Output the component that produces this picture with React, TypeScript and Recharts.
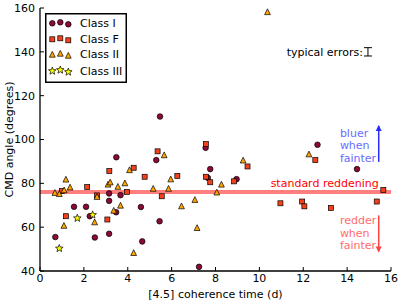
import React from 'react';
import {
  ScatterChart, Scatter, XAxis, YAxis, ReferenceLine, ReferenceDot, Legend, ErrorBar,
} from 'recharts';

const FONT = 'DejaVu Sans, Verdana, sans-serif';

const classINames = ['Class I', 'Class F', 'Class II', 'Class III'];

const classIx = [0.7, 1.55, 2.1, 2.27, 2.5, 3.15, 3.15, 3.15, 3.47, 3.48, 3.67, 4.6, 4.66, 5.3, 5.45, 5.47, 7.25, 7.55, 7.65, 7.76, 8.96, 12.65, 14.45];
const classIy = [55.5, 69.3, 69.3, 65, 55.3, 75.4, 72, 57, 66.8, 91.9, 74.6, 69.2, 53.5, 90.6, 62.7, 110.5, 41.9, 96.2, 82.5, 86.5, 81.9, 97.6, 86.5];

const classFx = [1.0, 1.18, 2.15, 2.6, 3.07, 3.16, 3.96, 4.27, 4.77, 5.36, 5.55, 6.26, 7.56, 7.56, 7.76, 8.85, 9.46, 10.96, 11.95, 12.05, 12.55, 13.26, 15.35, 15.65];
const classFy = [76.5, 65, 78.3, 74.5, 63.5, 85.6, 76.1, 87.1, 83, 94.6, 74.1, 83.4, 97.9, 83, 80.5, 80.9, 87.7, 70.9, 71.7, 69.5, 90.6, 68.8, 71.7, 77];

const classIIx = [0.68, 0.88, 1.1, 1.09, 1.18, 1.37, 2.49, 2.6, 3.1, 3.2, 3.36, 3.55, 3.67, 3.87, 4.08, 4.27, 5.16, 5.66, 5.86, 5.96, 6.45, 7.06, 7.16, 8.06, 8.27, 9.26, 10.37, 12.26];
const classIIy = [75.8, 75.3, 77, 60.8, 81.9, 78.3, 62.4, 74, 79.6, 80.6, 67.7, 78.6, 70, 80.2, 86.2, 48.4, 77.7, 93, 77.7, 82, 69.7, 72.6, 59.8, 76, 79.6, 90.6, 158.3, 93.4];

const classIIIx = [0.88, 1.7, 2.4];
const classIIIy = [50.3, 64.1, 65.6];

const xTicks = [0, 2, 4, 6, 8, 10, 12, 14, 16];
const yTicks = [40, 60, 80, 100, 120, 140, 160];

const standardReddening = 76;
const typicalError = 1.9;

const zip = (xs: number[], ys: number[]) => xs.map((x, i) => ({ x, y: ys[i] }));

const COLORS = ['#8c0a36', '#f5401c', '#ffa500', '#ffff00'];
const MARKERS = ['circle', 'square', 'triangle', 'star'];

function Marker({ kind, cx, cy, fill }: { kind: string; cx: number; cy: number; fill: string }) {
  const sw = 0.7;
  if (kind === 'circle') return <circle cx={cx} cy={cy} r={2.8} fill={fill} stroke="#000" strokeWidth={sw} />;
  if (kind === 'square') return <rect x={cx - 2.5} y={cy - 2.5} width={5} height={5} fill={fill} stroke="#000" strokeWidth={sw} />;
  if (kind === 'triangle') {
    const r = 2.9;
    return <polygon points={`${cx},${cy - r} ${cx - r},${cy + r} ${cx + r},${cy + r}`} fill={fill} stroke="#000" strokeWidth={sw} />;
  }
  const pts: string[] = [];
  for (let i = 0; i < 10; i++) {
    const rr = i % 2 === 0 ? 4.0 : 1.7;
    const a = -Math.PI / 2 + (i * Math.PI) / 5;
    pts.push(`${cx + rr * Math.cos(a)},${cy + rr * Math.sin(a)}`);
  }
  return <polygon points={pts.join(' ')} fill={fill} stroke="#000" strokeWidth={sw} />;
}

const makeShape = (idx: number) => (p: any) => (
  <Marker kind={MARKERS[idx]} cx={p.cx} cy={p.cy} fill={COLORS[idx]} />
);

function LegendBox() {
  const rows = [10.3, 26.3, 41.3, 58];
  const mx = [7.3, 15.3, 23.3];
  const my = [0, -1, 1];
  return (
    <svg width={82} height={70} style={{ display: 'block' }}>
      <rect x={0.75} y={0.75} width={80.5} height={68.5} fill="#fff" stroke="#000" strokeWidth={1.5} />
      {classINames.map((name, i) => (
        <g key={name}>
          {mx.map((x, j) => (
            <Marker key={j} kind={MARKERS[i]} cx={x} cy={rows[i] + my[j]} fill={COLORS[i]} />
          ))}
          <text x={35} y={rows[i]} dominantBaseline="central" fontFamily={FONT} fontSize={11} fill="#000">{name}</text>
        </g>
      ))}
    </svg>
  );
}

const textShape = (lines: string[], color: string, anchor: 'start' | 'end') => (p: any) => (
  <text x={p.cx} y={p.cy} textAnchor={anchor} dominantBaseline="central" fontFamily={FONT} fontSize={11} fill={color}>
    {lines.map((l, i) => (
      <tspan key={i} x={p.cx} dy={i === 0 ? 0 : 12.3}>{l}</tspan>
    ))}
  </text>
);

const arrowShape = (color: string) => (p: any) => {
  const { x1, y1, x2, y2 } = p;
  const dir = y2 < y1 ? -1 : 1;
  return (
    <g>
      <line x1={x1} y1={y1} x2={x2} y2={y2} stroke={color} strokeWidth={1.5} />
      <polygon points={`${x2},${y2 + dir * 1} ${x2 - 3},${y2 - dir * 5} ${x2 + 3},${y2 - dir * 5}`} fill={color} />
    </g>
  );
};

const tickStyle = { fontFamily: FONT, fontSize: 11, fill: '#000' };
const errData = [{ x: 14.95, y: 140, err: typicalError }];

export default function App() {
  return (
    <div style={{ position: 'absolute', left: 0, top: 0, width: 399, height: 302, background: '#fff' }}>
      <ScatterChart width={399} height={302} margin={{ top: 8, right: 8, bottom: 1, left: 0 }}>
        <XAxis
          xAxisId="b" type="number" dataKey="x" domain={[0, 16]} ticks={xTicks} allowDataOverflow
          height={30} tickSize={-4} tickMargin={7} tick={tickStyle}
          axisLine={{ stroke: '#000', strokeWidth: 1.3 }} tickLine={{ stroke: '#000', strokeWidth: 1 }}
          label={{
            content: (props: any) => {
              const vb = props.viewBox;
              return (
                <text x={vb.x + vb.width / 2} y={vb.y + 23} textAnchor="middle" dominantBaseline="central" fontFamily={FONT} fontSize={11} fill="#000">
                  [4.5] coherence time (d)
                </text>
              );
            },
          }}
        />
        <XAxis
          xAxisId="t" orientation="top" type="number" dataKey="x" domain={[0, 16]} ticks={xTicks} allowDataOverflow
          height={0} tickSize={-4} tickFormatter={() => ''}
          axisLine={{ stroke: '#000', strokeWidth: 1.3 }} tickLine={{ stroke: '#000', strokeWidth: 1 }}
        />
        <YAxis
          yAxisId="l" type="number" dataKey="y" domain={[40, 160]} ticks={yTicks} allowDataOverflow
          width={40} tickSize={-4} tickMargin={9} tick={tickStyle}
          axisLine={{ stroke: '#000', strokeWidth: 1.3 }} tickLine={{ stroke: '#000', strokeWidth: 1 }}
          label={{
            content: (props: any) => {
              const vb = props.viewBox;
              const cx = 9;
              const cy = vb.y + vb.height / 2;
              return (
                <text x={cx} y={cy} transform={`rotate(-90 ${cx} ${cy})`} textAnchor="middle" dominantBaseline="central" fontFamily={FONT} fontSize={11} fill="#000">
                  CMD angle (degrees)
                </text>
              );
            },
          }}
        />
        <YAxis
          yAxisId="r" orientation="right" type="number" dataKey="y" domain={[40, 160]} ticks={yTicks} allowDataOverflow
          width={0} tickSize={-4} tickFormatter={() => ''}
          axisLine={{ stroke: '#000', strokeWidth: 1.3 }} tickLine={{ stroke: '#000', strokeWidth: 1 }}
        />
        <Legend
          layout="vertical" align="center" verticalAlign="middle"
          wrapperStyle={{ left: 45, top: 13, width: 82, height: 70 }}
          content={() => <LegendBox />}
        />
        <Scatter name="Class I" xAxisId="b" yAxisId="l" data={zip(classIx, classIy)} shape={makeShape(0)} isAnimationActive={false} legendType="none" />
        <Scatter name="Class F" xAxisId="b" yAxisId="l" data={zip(classFx, classFy)} shape={makeShape(1)} isAnimationActive={false} legendType="none" />
        <Scatter name="Class II" xAxisId="b" yAxisId="l" data={zip(classIIx, classIIy)} shape={makeShape(2)} isAnimationActive={false} legendType="none" />
        <Scatter name="Class III" xAxisId="b" yAxisId="l" data={zip(classIIIx, classIIIy)} shape={makeShape(3)} isAnimationActive={false} legendType="none" />
        <ReferenceLine xAxisId="b" yAxisId="l" y={standardReddening} stroke="#ff0000" strokeOpacity={0.5} strokeWidth={4} />
        <Scatter xAxisId="b" yAxisId="l" data={errData} shape={() => <g />} isAnimationActive={false} legendType="none">
          <ErrorBar dataKey="err" direction="y" width={4} stroke="#000" strokeWidth={1} isAnimationActive={false} />
        </Scatter>
        <ReferenceDot xAxisId="b" yAxisId="l" x={14.72} y={140.1} shape={textShape(['typical errors:'], '#000', 'end')} />
        <ReferenceDot xAxisId="b" yAxisId="l" x={15.44} y={80.1} shape={textShape(['standard reddening'], '#ff0000', 'end')} />
        <ReferenceDot xAxisId="b" yAxisId="l" x={13.67} y={103} shape={textShape(['bluer', 'when', 'fainter'], '#6b6bff', 'start')} />
        <ReferenceDot xAxisId="b" yAxisId="l" x={13.67} y={63.1} shape={textShape(['redder', 'when', 'fainter'], '#ff6b6b', 'start')} />
        <ReferenceLine xAxisId="b" yAxisId="l" segment={[{ x: 15.44, y: 89.8 }, { x: 15.44, y: 106.2 }]} shape={arrowShape('#2a2aff')} />
        <ReferenceLine xAxisId="b" yAxisId="l" segment={[{ x: 15.44, y: 65.4 }, { x: 15.44, y: 48.9 }]} shape={arrowShape('#ff4040')} />
      </ScatterChart>
    </div>
  );
}
